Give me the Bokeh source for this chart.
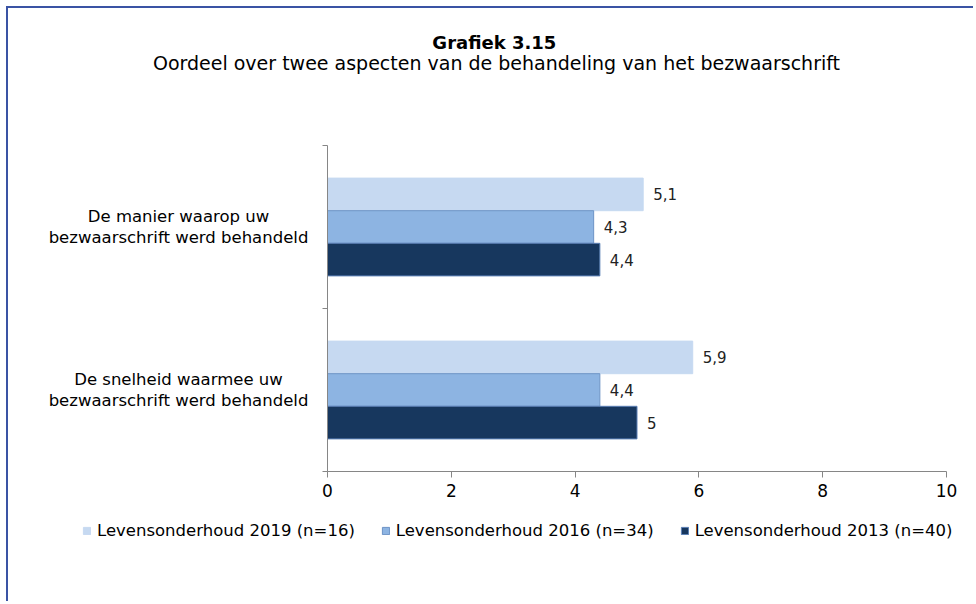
from bokeh.plotting import figure
from bokeh.models import (ColumnDataSource, Label, LabelSet, Legend, LegendItem,
                          FixedTicker, Range1d, LinearAxis)
from bokeh.embed import file_html
from bokeh.resources import INLINE
from bokeh.transform import dodge
from bokeh.core.properties import value

# ---------------- data ----------------
title_text = "Grafiek  3.15"
subtitle_text = "Oordeel over twee aspecten van de behandeling  van het bezwaarschrift"
categories = ["De manier waarop uw\nbezwaarschrift werd behandeld",
              "De snelheid waarmee uw\nbezwaarschrift werd behandeld"]
series_names = ["Levensonderhoud 2019 (n=16)",
                "Levensonderhoud 2016 (n=34)",
                "Levensonderhoud 2013 (n=40)"]
values_2019 = [5.1, 5.9]
values_2016 = [4.3, 4.4]
values_2013 = [4.4, 5.0]
x_ticks = [0, 2, 4, 6, 8, 10]
x_min, x_max = 0, 10

# ---------------- layout / style ----------------
FONT = "DejaVu Sans"
fills = ["#c6d9f1", "#8db4e2", "#17375e"]
outlines = ["#c6d9f1", "#6d93c6", "#5a7fb5"]
offsets = [-0.2, 0.0, 0.2]
axis_col = "#868686"

W, H = 967, 595
# pixel placement of the value axis (canvas px)
AX_L, AX_R, AX_T, AX_B = 319, 938, 137, 463
n_cat = len(categories)
ppx = (AX_R - AX_L) / (x_max - x_min)
ppy = (AX_B - AX_T) / n_cat
x_start = x_min - AX_L / ppx
x_end = x_max + (W - AX_R) / ppx
y_top = 0 - AX_T / ppy
y_bottom = n_cat + (H - AX_B) / ppy

p = figure(width=W, height=H,
           x_range=Range1d(x_start, x_end), y_range=Range1d(y_bottom, y_top),
           output_backend="svg", toolbar_location=None, title_location=None,
           x_axis_location=None, y_axis_location=None, min_border=0)
p.styles = {"margin-left": "6px", "margin-top": "6px",
            "border-left": "2px solid #3a53a4", "border-top": "2px solid #3a53a4"}
p.outline_line_color = None
p.background_fill_color = "white"
p.border_fill_color = "white"
p.xgrid.visible = False
p.ygrid.visible = False

cat_pos = [i + 0.5 for i in range(n_cat)]
series_vals = [values_2019, values_2016, values_2013]
items = []
for name, vals, fc, lc, off in zip(series_names, series_vals, fills, outlines, offsets):
    src = ColumnDataSource(dict(
        y=cat_pos, v=vals,
        txt=[("%g" % v).replace(".", ",") for v in vals]))
    r = p.hbar(y=dodge("y", off), right="v", left=0, height=0.2, source=src,
               fill_color=fc, line_color=lc, line_width=1)
    items.append(LegendItem(label=name, renderers=[r]))
    p.add_layout(LabelSet(x="v", y=dodge("y", off), text="txt", source=src,
                          x_offset=10, text_baseline="middle",
                          text_font=value(FONT), text_font_size="15px",
                          text_color="#222222"))

# x axis
xa = LinearAxis(fixed_location=n_cat, bounds=(x_min, x_max),
                ticker=FixedTicker(ticks=x_ticks))
xa.axis_line_color = axis_col
xa.major_tick_line_color = axis_col
xa.major_tick_out = 6
xa.major_tick_in = 0
xa.minor_tick_line_color = None
xa.major_label_text_font = FONT
xa.major_label_text_font_size = "17px"
xa.major_label_text_color = "black"
xa.major_label_standoff = 6
p.add_layout(xa, "below")

# y axis (category boundaries)
ya = LinearAxis(fixed_location=x_min, bounds=(0, n_cat),
                ticker=FixedTicker(ticks=list(range(n_cat + 1))))
ya.major_label_overrides = {i: "" for i in range(n_cat + 1)}
ya.axis_line_color = axis_col
ya.major_tick_line_color = axis_col
ya.major_tick_out = 5
ya.major_tick_in = 0
ya.minor_tick_line_color = None
p.add_layout(ya, "left")

# category labels
for c, y in zip(categories, cat_pos):
    p.add_layout(Label(x=170, x_units="screen", y=y, text=c,
                       text_align="center", text_baseline="middle",
                       text_font=FONT, text_font_size="16.5px",
                       text_line_height=1.1, text_color="black"))

# titles
p.add_layout(Label(x=489, y=H - 34, x_units="screen", y_units="screen",
                   text=title_text, text_align="center", text_baseline="middle",
                   text_font=FONT, text_font_size="18px", text_font_style="bold",
                   text_color="black"))
p.add_layout(Label(x=491, y=H - 54, x_units="screen", y_units="screen",
                   text=subtitle_text, text_align="center", text_baseline="middle",
                   text_font=FONT, text_font_size="19px", text_color="black"))

legend = Legend(items=items, location=(74, H - 532), orientation="horizontal",
                spacing=26, padding=0, margin=0, glyph_width=9, glyph_height=9,
                label_standoff=6, label_text_font=FONT, label_text_font_size="16.5px",
                label_text_color="black", border_line_color=None,
                background_fill_alpha=0)
p.add_layout(legend)

open("out.html", "w").write(file_html(p, INLINE))
